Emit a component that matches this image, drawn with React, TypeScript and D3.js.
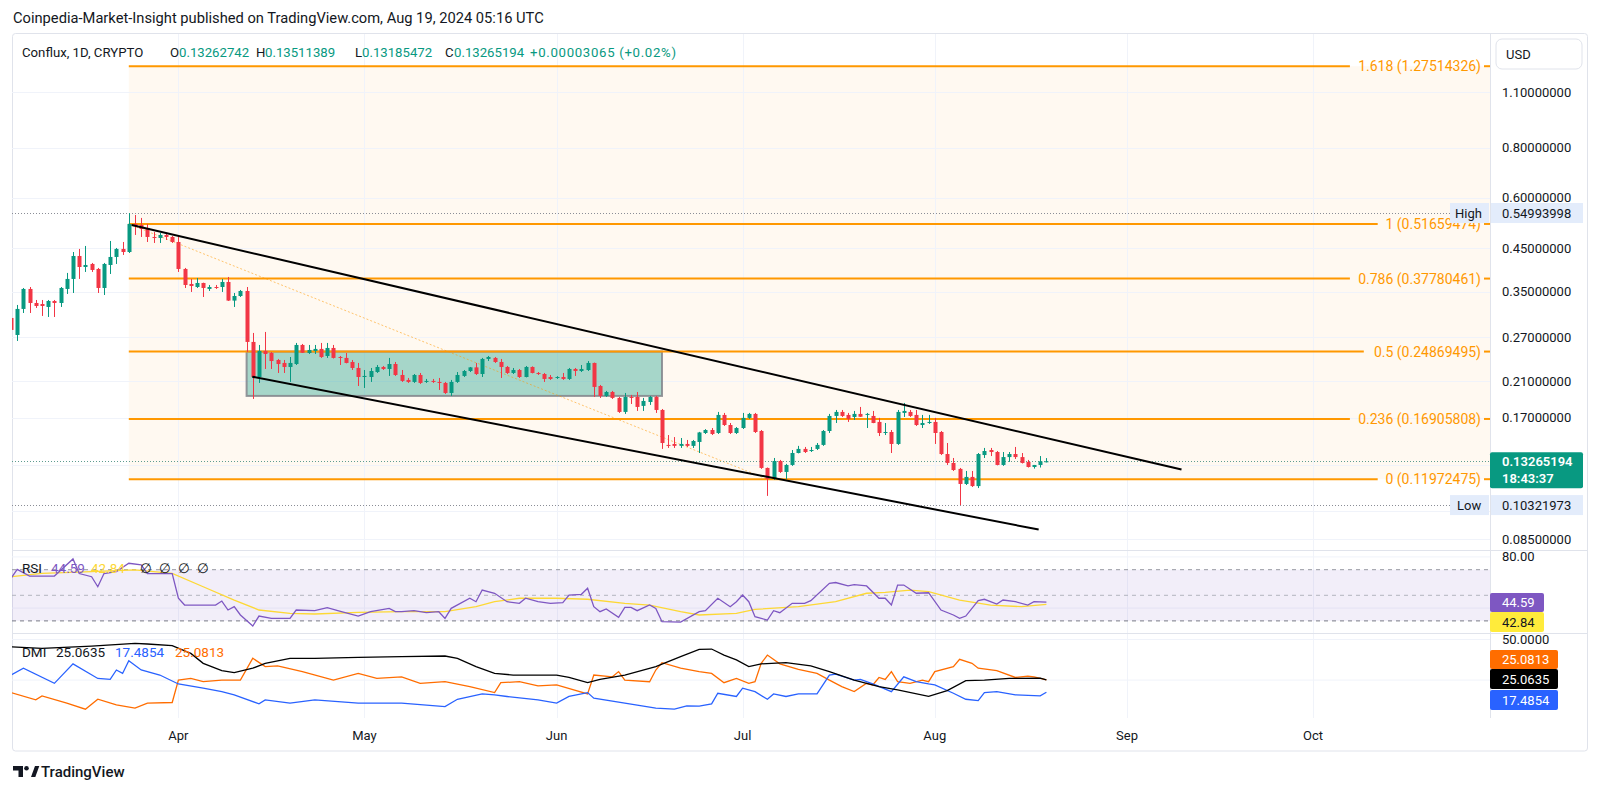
import React from 'react';
import * as d3 from 'd3';

const FONT = "Roboto, 'Noto Sans', 'DejaVu Sans', sans-serif";
const TXT = '#131722';
const UP = '#089981';
const DOWN = '#f23645';
const GRID = '#f0f3fa';
const BORDER = '#e0e3eb';
const FIB = '#ff9800';

const START = Date.UTC(2024, 2, 5);
const DAY = 86400000;

// daily candles from 2024-03-05 to 2024-08-19: [open, high, low, close]
const ohlc: [number, number, number, number][] = [
  [0.3015,0.3102,0.2735,0.2815],[0.2735,0.3248,0.2643,0.3175],[0.3175,0.3580,0.3102,0.3560],[0.3560,0.3600,0.3102,0.3285],
  [0.3285,0.3342,0.3193,0.3229],[0.3266,0.3342,0.3050,0.3229],[0.3211,0.3342,0.3032,0.3323],[0.3323,0.3342,0.3032,0.3285],
  [0.3285,0.3600,0.3211,0.3580],[0.3560,0.3902,0.3459,0.3770],[0.3770,0.4399,0.3479,0.4300],[0.4300,0.4477,0.3770,0.4037],
  [0.4037,0.4554,0.3924,0.4084],[0.4108,0.4132,0.3924,0.3969],[0.3992,0.4015,0.3479,0.3580],[0.3580,0.4132,0.3439,0.4108],
  [0.4084,0.4686,0.3879,0.4276],[0.4276,0.4502,0.4108,0.4477],[0.4477,0.4659,0.4325,0.4399],[0.4399,0.5499,0.4374,0.5166],
  [0.5166,0.5439,0.4850,0.5107],[0.5136,0.5347,0.4795,0.5020],[0.5049,0.5166,0.4659,0.4795],[0.4795,0.4934,0.4633,0.4768],
  [0.4768,0.4906,0.4633,0.4850],[0.4850,0.4906,0.4713,0.4795],[0.4795,0.4822,0.4633,0.4659],
  // April
  [0.4659,0.4795,0.3924,0.3992],[0.3992,0.4015,0.3580,0.3642],[0.3663,0.3770,0.3499,0.3621],[0.3600,0.3791,0.3580,0.3684],
  [0.3684,0.3690,0.3400,0.3580],[0.3560,0.3642,0.3519,0.3600],[0.3600,0.3642,0.3560,0.3580],[0.3600,0.3770,0.3499,0.3705],
  [0.3705,0.3813,0.3323,0.3330],[0.3330,0.3479,0.3211,0.3419],[0.3419,0.3539,0.3400,0.3519],[0.3519,0.3600,0.2481,0.2628],
  [0.2628,0.2767,0.1896,0.2150],[0.2150,0.2583,0.2078,0.2496],[0.2496,0.2783,0.2251,0.2453],[0.2467,0.2481,0.2251,0.2356],
  [0.2370,0.2384,0.2200,0.2316],[0.2330,0.2370,0.2200,0.2277],[0.2277,0.2411,0.2090,0.2330],[0.2316,0.2613,0.2303,0.2583],
  [0.2583,0.2598,0.2467,0.2470],[0.2467,0.2583,0.2453,0.2510],[0.2496,0.2583,0.2453,0.2525],[0.2525,0.2613,0.2398,0.2411],
  [0.2425,0.2613,0.2398,0.2539],[0.2539,0.2583,0.2390,0.2398],[0.2411,0.2425,0.2303,0.2398],[0.2398,0.2467,0.2325,0.2330],
  [0.2343,0.2370,0.2238,0.2264],[0.2264,0.2330,0.2042,0.2150],
  // May
  [0.2150,0.2238,0.2019,0.2163],[0.2150,0.2264,0.2090,0.2225],[0.2212,0.2303,0.2200,0.2277],[0.2277,0.2290,0.2238,0.2251],
  [0.2251,0.2398,0.2163,0.2316],[0.2316,0.2343,0.2163,0.2175],[0.2175,0.2238,0.2090,0.2102],[0.2114,0.2138,0.2078,0.2090],
  [0.2090,0.2187,0.2078,0.2175],[0.2175,0.2200,0.2066,0.2078],[0.2090,0.2126,0.2078,0.2102],[0.2102,0.2126,0.2078,0.2090],
  [0.2090,0.2138,0.1996,0.2078],[0.2078,0.2090,0.1951,0.1962],[0.1962,0.2114,0.1929,0.2090],[0.2090,0.2212,0.2078,0.2175],
  [0.2163,0.2238,0.2150,0.2225],[0.2225,0.2277,0.2212,0.2272],[0.2272,0.2330,0.2175,0.2187],[0.2187,0.2398,0.2150,0.2384],
  [0.2384,0.2425,0.2356,0.2411],[0.2398,0.2411,0.2330,0.2343],[0.2343,0.2384,0.2138,0.2277],[0.2277,0.2290,0.2187,0.2200],
  [0.2200,0.2264,0.2187,0.2238],[0.2238,0.2251,0.2138,0.2150],[0.2150,0.2290,0.2145,0.2277],[0.2277,0.2285,0.2195,0.2200],
  [0.2200,0.2212,0.2175,0.2187],[0.2187,0.2200,0.2090,0.2126],[0.2150,0.2175,0.2114,0.2126],
  // June
  [0.2138,0.2160,0.2126,0.2150],[0.2150,0.2200,0.2114,0.2126],[0.2126,0.2264,0.2114,0.2251],[0.2251,0.2264,0.2163,0.2225],
  [0.2225,0.2303,0.2212,0.2251],[0.2238,0.2356,0.2225,0.2330],[0.2330,0.2335,0.1918,0.2031],[0.2042,0.2054,0.1907,0.1929],
  [0.1929,0.1985,0.1918,0.1973],[0.1973,0.1985,0.1896,0.1907],[0.1907,0.1918,0.1750,0.1760],[0.1760,0.1962,0.1740,0.1918],
  [0.1918,0.1940,0.1842,0.1907],[0.1918,0.1973,0.1770,0.1811],[0.1822,0.1907,0.1770,0.1874],[0.1863,0.1929,0.1832,0.1918],
  [0.1918,0.1929,0.1750,0.1780],[0.1780,0.1790,0.1424,0.1473],[0.1457,0.1542,0.1432,0.1449],[0.1465,0.1524,0.1432,0.1449],
  [0.1449,0.1516,0.1432,0.1465],[0.1465,0.1499,0.1440,0.1449],[0.1449,0.1499,0.1432,0.1490],[0.1482,0.1570,0.1391,0.1565],
  [0.1560,0.1595,0.1551,0.1587],[0.1587,0.1605,0.1542,0.1551],[0.1560,0.1760,0.1551,0.1730],[0.1730,0.1750,0.1624,0.1633],
  [0.1633,0.1652,0.1551,0.1560],[0.1560,0.1614,0.1551,0.1605],
  // July
  [0.1605,0.1750,0.1596,0.1701],[0.1701,0.1750,0.1691,0.1740],[0.1740,0.1750,0.1560,0.1569],[0.1578,0.1587,0.1270,0.1277],
  [0.1277,0.1280,0.1088,0.1199],[0.1199,0.1352,0.1192,0.1329],[0.1329,0.1337,0.1241,0.1248],[0.1248,0.1307,0.1199,0.1299],
  [0.1299,0.1415,0.1292,0.1391],[0.1391,0.1449,0.1388,0.1424],[0.1424,0.1440,0.1391,0.1399],[0.1407,0.1440,0.1399,0.1415],
  [0.1424,0.1473,0.1415,0.1457],[0.1457,0.1587,0.1449,0.1578],[0.1578,0.1740,0.1560,0.1720],[0.1720,0.1780,0.1652,0.1760],
  [0.1760,0.1780,0.1710,0.1720],[0.1730,0.1750,0.1662,0.1691],[0.1710,0.1770,0.1681,0.1740],[0.1740,0.1811,0.1710,0.1712],
  [0.1730,0.1750,0.1605,0.1740],[0.1720,0.1770,0.1650,0.1652],[0.1662,0.1701,0.1533,0.1560],[0.1560,0.1652,0.1542,0.1569],
  [0.1569,0.1587,0.1391,0.1465],[0.1465,0.1780,0.1457,0.1760],[0.1750,0.1853,0.1710,0.1770],[0.1760,0.1780,0.1710,0.1720],
  [0.1730,0.1780,0.1624,0.1633],[0.1633,0.1730,0.1605,0.1652],[0.1652,0.1730,0.1643,0.1662],
  // August
  [0.1662,0.1701,0.1465,0.1560],[0.1569,0.1578,0.1375,0.1383],[0.1383,0.1473,0.1299,0.1314],[0.1314,0.1352,0.1255,0.1262],
  [0.1270,0.1277,0.10322,0.1165],[0.1165,0.1255,0.1158,0.1213],[0.1213,0.1255,0.1145,0.1151],[0.1151,0.1391,0.1138,0.1383],
  [0.1375,0.1432,0.1352,0.1407],[0.1415,0.1432,0.1367,0.1399],[0.1399,0.1407,0.1296,0.1299],[0.1299,0.1399,0.1292,0.1359],
  [0.1359,0.1399,0.1322,0.1383],[0.1383,0.1440,0.1344,0.1359],[0.1359,0.1391,0.1310,0.1314],[0.1322,0.1337,0.1280,0.1284],
  [0.1284,0.1299,0.1272,0.1299],[0.1299,0.1367,0.1280,0.1326],[0.13262742,0.13511389,0.13185472,0.13265194],
];

// indicator readings: [day index from 2024-03-05, value]
const rsiPts: [number, number][] = [
  [0,63.3],[1,70.3],[3,65],[7,65],[10,78.4],[11,67],[13,64.5],[14,56.7],[15,67],[17,68.5],[19,75],[21,73.7],[22,67],[26,67],
  [27,47.7],[28,42.4],[33,42.4],[34,45.5],[35,38.5],[36,41.1],[37,34.6],[39,26],[40,33.8],[42,32],[45,32],[46,38.5],[49,38],
  [51,40.3],[53,37.7],[56,33.8],[58,37.2],[61,39.8],[62,37.2],[63,37.2],[65,38],[67,36.4],[69,37.2],[70,32],[71,39.8],[74,47.7],
  [75,45],[76,54.1],[78,51.6],[80,45],[82,43.75],[83,47.7],[85,45],[87,43.75],[89,44.3],[90,50.2],[92,50.8],[93,55.5],[94,41.1],
  [95,37.2],[96,39.3],[98,32.8],[99,40.6],[100,40.6],[101,38],[103,42.4],[104,39.8],[105,29.4],[108,29.1],[111,37.2],[112,38],
  [114,47.7],[116,41.1],[117,45],[118,50.2],[119,45],[120,33.3],[122,30.7],[123,38],[124,36.4],[126,43.75],[128,43.75],[129,45.8],
  [132,59.4],[133,60],[135,57.3],[136,58.3],[138,57.3],[140,47.7],[141,47.7],[142,42.4],[143,58],[144,58],[146,51.6],[148,52],
  [150,38.5],[152,34.6],[153,32],[154,33.8],[156,45.8],[157,46.9],[159,43.2],[160,46.3],[162,45],[164,42.4],[165,45],[167,44.59],
];
const rsiMaPts: [number, number][] = [
  [0,64.5],[5,67.2],[13,68.5],[20,69.8],[26,67.2],[31,56.7],[36,46.3],[40,38.5],[45,35.9],[49,35.4],[56,36.7],[63,37.2],[70,37.2],
  [75,41.1],[78,45],[82,47.7],[88,47.7],[93,46.9],[99,43.75],[103,42.4],[108,37.2],[111,34.6],[117,35.9],[120,39],[127,41.1],
  [133,45],[138,51.6],[141,52.3],[145,54.1],[148,52.8],[153,46.3],[158,42.4],[163,41.1],[167,42.84],
];
const adxPts: [number, number][] = [
  [0,45.5],[5,44.5],[13,45.9],[20,47.6],[22,47.2],[26,46.2],[29,41.4],[31,35.3],[34,30.8],[36,29.6],[39,32.3],[41,35.3],[45,38.4],
  [49,38.4],[56,39],[63,39.4],[70,39.8],[72,38.4],[75,33.3],[78,29.1],[81,28.1],[88,28.1],[90,26.6],[93,23.4],[95,25.4],[99,28.1],
  [104,33.3],[108,39.4],[111,43.9],[113,44.1],[115,40.4],[117,37.4],[119,33.3],[121,35],[125,35.7],[129,33.7],[132,30.2],[136,25],
  [140,21],[143,19],[148,15],[151,18.5],[154,24.6],[157,25],[161,26],[166,26.2],[167,25.0635],
];
const plusDiPts: [number, number][] = [
  [0,28.1],[2,32.3],[7,23],[10,35],[14,26],[16,25.4],[17,31.2],[18,29.1],[19,36.9],[21,31.2],[24,28.1],[27,22.6],[31,20],[34,17.9],
  [36,15.9],[40,10.4],[41,12.8],[45,10.8],[49,12.8],[56,10.8],[63,10.8],[70,8.7],[72,13.2],[76,16.5],[78,15.9],[80,14.9],[85,12.8],
  [88,10.8],[90,14.9],[93,17.3],[94,13.9],[99,10.8],[104,7.7],[107,7.1],[109,9.1],[111,9],[113,10.4],[114,16.9],[117,14.9],[118,20],
  [120,17.9],[122,13.2],[123,16.5],[125,14.9],[127,16.5],[130,16.5],[132,28.1],[133,28.7],[136,25],[137,25.4],[139,22.6],[142,17.9],
  [144,27],[146,24],[148,22.6],[149,22],[152,16.9],[154,13.2],[156,12.4],[157,17.3],[159,17.9],[162,15.9],[166,15.3],[167,17.4854],
];
const minusDiPts: [number, number][] = [
  [0,17.3],[4,12.8],[5,15.3],[9,10.8],[12,7.1],[14,13.2],[17,9.8],[20,7.7],[22,10.8],[26,11.2],[27,25],[29,26],[31,24],[34,25],
  [37,25],[39,38.4],[41,33.3],[43,33.7],[47,30.2],[52,25],[56,29.1],[59,26],[63,27],[66,23],[70,24],[74,21],[78,17.3],[79,23.4],
  [82,24],[85,21.4],[88,22],[93,16.5],[94,28.1],[97,27],[98,30.2],[99,25],[103,24],[104,31.2],[105,35.7],[108,32.3],[111,30.2],
  [113,29.1],[115,23.4],[117,26],[119,23],[120,24],[121,35.3],[122,40.4],[124,35],[127,31.6],[130,29.1],[132,25],[134,21],[136,17.9],
  [138,23],[139,22],[140,26.6],[141,25.4],[142,30.2],[143,24],[145,23],[147,25],[148,24],[149,30.2],[152,33.3],[153,37.8],[155,35.3],
  [156,32.3],[159,30.8],[162,26.6],[164,27.4],[165,27],[167,25.0813],
];

const priceGrid = [1.1, 0.8, 0.6, 0.45, 0.35, 0.27, 0.21, 0.17, 0.13, 0.1, 0.085];
const priceLabels = [1.1, 0.8, 0.6, 0.45, 0.35, 0.27, 0.21, 0.17, 0.085];
const fibRatios = ['1.618', '1', '0.786', '0.5', '0.236', '0'];
const fibValues = [1.27514326, 0.51659474, 0.37780461, 0.24869495, 0.16905808, 0.11972475];
const months = ['Apr', 'May', 'Jun', 'Jul', 'Aug', 'Sep', 'Oct'];
const monthDates = months.map((_, i) => new Date(Date.UTC(2024, 3 + i, 1)));

const highValue = 0.54993998;
const lowValue = 0.10321973;
const lastPrice = 0.13265194;

// drawings (time, price)
const fibStart = new Date(Date.UTC(2024, 2, 24));
const fibEnd = new Date(Date.UTC(2024, 6, 5));
const upperTrend: [Date, number][] = [[new Date(Date.UTC(2024, 2, 24, 11)), 0.5136], [new Date(Date.UTC(2024, 8, 9, 19)), 0.1265]];
const lowerTrend: [Date, number][] = [[new Date(Date.UTC(2024, 3, 12, 22)), 0.2154], [new Date(Date.UTC(2024, 7, 17, 18)), 0.0897]];
const rangeBox = { from: new Date(Date.UTC(2024, 3, 12)), to: new Date(Date.UTC(2024, 5, 18)), top: 0.24869495, bottom: 0.1929 };

const dateOf = (i: number) => new Date(START + i * DAY);

export default function App() {
  const W = 1600, H = 794;
  const L = 12, R = 1490, AX = 1588;
  const mainTop = 34, mainBot = 550, rsiBot = 633, dmiBot = 718;

  const x = d3.scaleUtc().domain([new Date(Date.UTC(2024, 3, 1)), new Date(Date.UTC(2024, 9, 1))]).range([178.4, 1313]);
  const y = d3.scaleLog().domain([0.085, 1.1]).range([539, 92]);
  const yr = d3.scaleLinear().domain([30, 70]).range([620.9, 569.7]);
  const yd = d3.scaleLinear().domain([0, 50]).range([720.7, 639.45]);

  const rsiLine = d3.line<[number, number]>().x(d => x(dateOf(d[0]))).y(d => yr(d[1]));
  const dmiLine = d3.line<[number, number]>().x(d => x(dateOf(d[0]))).y(d => yd(d[1]));
  const trend = d3.line<[Date, number]>().x(d => x(d[0])).y(d => y(d[1]));

  const fibX0 = x(fibStart);
  const fmt = (v: number) => v.toFixed(8);

  const fs = 13;
  const fsFib = 14;
  const fsLeg = 13.5;

  return (
    <div style={{ position: 'absolute', left: 0, top: 0, width: W, height: H, background: '#fff' }}>
      <svg width={W} height={H} style={{ display: 'block', fontFamily: FONT }}>
        <defs>
          <clipPath id="cMain"><rect x={L} y={mainTop} width={R - L} height={mainBot - mainTop} /></clipPath>
          <clipPath id="cRsi"><rect x={L} y={mainBot} width={R - L} height={rsiBot - mainBot} /></clipPath>
          <clipPath id="cDmi"><rect x={L} y={rsiBot} width={R - L} height={dmiBot - rsiBot} /></clipPath>
        </defs>
        <rect x={0} y={0} width={W} height={H} fill="#fff" />

        {/* header */}
        <text x={13} y={18} fontSize={14.7} fill={TXT} dominantBaseline="central">
          Coinpedia-Market-Insight published on TradingView.com, Aug 19, 2024 05:16 UTC
        </text>

        {/* frame */}
        <rect x={L + 0.5} y={33.5} width={AX - L - 1} height={751 - 33.5} fill="none" stroke={BORDER} rx={3} />

        {/* fib background */}
        <rect x={fibX0} y={y(fibValues[0])} width={R - fibX0} height={y(fibValues[5]) - y(fibValues[0])} fill="#fff9f1" />

        {/* grid */}
        <g stroke={GRID} strokeWidth={1}>
          {priceGrid.map(p => <line key={'pg' + p} x1={L} x2={R} y1={Math.round(y(p)) + 0.5} y2={Math.round(y(p)) + 0.5} />)}
          {monthDates.map((d, i) => <line key={'vg' + i} x1={Math.round(x(d)) + 0.5} x2={Math.round(x(d)) + 0.5} y1={mainTop} y2={dmiBot} />)}
          {[80, 40].map(v => <line key={'rg' + v} x1={L} x2={R} y1={yr(v)} y2={yr(v)} />)}
          {[50, 25].map(v => <line key={'dg' + v} x1={L} x2={R} y1={yd(v)} y2={yd(v)} />)}
        </g>

        {/* main pane */}
        <g clipPath="url(#cMain)">
          <rect x={x(rangeBox.from)} y={y(rangeBox.top)} width={x(rangeBox.to) - x(rangeBox.from)}
            height={y(rangeBox.bottom) - y(rangeBox.top)} fill="rgba(8,153,129,0.36)" stroke="rgba(130,133,140,0.85)" strokeWidth={2} />
          {fibValues.map((v, i) => {
            const lbl = `${fibRatios[i]} (${fmt(v)})`;
            const lx0 = 1481 - lbl.length * 6.95;
            const yy = y(v);
            return (
              <g key={'fib' + i}>
                <line x1={fibX0} x2={lx0 - 6} y1={yy} y2={yy} stroke={FIB} strokeWidth={2} />
                <line x1={1484} x2={R} y1={yy} y2={yy} stroke={FIB} strokeWidth={2} />
                <text x={1481} y={yy} fontSize={fsFib} fill={FIB} textAnchor="end" dominantBaseline="central">{lbl}</text>
              </g>
            );
          })}
          <line x1={x(fibStart)} y1={y(fibValues[1])} x2={x(fibEnd)} y2={y(fibValues[5])} stroke={FIB} strokeOpacity={0.55} strokeDasharray="2,2" strokeWidth={1} />

          <line x1={L} x2={1450} y1={Math.round(y(highValue)) + 0.5} y2={Math.round(y(highValue)) + 0.5} stroke="#8a8d96" strokeDasharray="1,2" />
          <line x1={L} x2={1450} y1={Math.round(y(lowValue)) + 0.5} y2={Math.round(y(lowValue)) + 0.5} stroke="#8a8d96" strokeDasharray="1,2" />
          <line x1={L} x2={R} y1={Math.round(y(lastPrice)) + 0.5} y2={Math.round(y(lastPrice)) + 0.5} stroke="#5e9c90" strokeDasharray="1,2" />

          {ohlc.map((c, i) => {
            const [o, h, l, cl] = c;
            const cx = Math.round(x(dateOf(i)));
            const col = cl >= o ? UP : DOWN;
            const yt = y(Math.max(o, cl));
            const yb = y(Math.min(o, cl));
            return (
              <g key={'c' + i}>
                <line x1={cx + 0.5} x2={cx + 0.5} y1={y(h)} y2={y(l)} stroke={col} strokeWidth={1} />
                <rect x={cx - 1.5} y={yt} width={4} height={Math.max(1, yb - yt)} fill={col} />
              </g>
            );
          })}

          <path d={trend(upperTrend) || ''} stroke="#000" strokeWidth={2} fill="none" />
          <path d={trend(lowerTrend) || ''} stroke="#000" strokeWidth={2} fill="none" />
        </g>

        {/* legend line */}
        <text y={52} fontSize={13.2} dominantBaseline="central">
          <tspan x={22} fill={TXT}>Conflux, 1D, CRYPTO</tspan>
          <tspan x={170} fill={TXT}>O</tspan><tspan x={179} fill={UP}>0.13262742</tspan>
          <tspan x={256} fill={TXT}>H</tspan><tspan x={265} fill={UP}>0.13511389</tspan>
          <tspan x={355} fill={TXT}>L</tspan><tspan x={362} fill={UP}>0.13185472</tspan>
          <tspan x={445} fill={TXT}>C</tspan><tspan x={454} fill={UP}>0.13265194</tspan>
        </text>
        <text x={530} y={52} fontSize={13.2} fill={UP} dominantBaseline="central" textLength={146} lengthAdjust="spacing">+0.00003065 (+0.02%)</text>

        {/* RSI pane */}
        <rect x={L} y={yr(70)} width={R - L} height={yr(30) - yr(70)} fill="rgba(126,87,194,0.1)" />
        <line x1={L} x2={R} y1={yr(70)} y2={yr(70)} stroke="#9598a1" strokeDasharray="4,4" />
        <line x1={L} x2={R} y1={yr(50)} y2={yr(50)} stroke="#b2b5be" strokeDasharray="4,4" />
        <line x1={L} x2={R} y1={yr(30)} y2={yr(30)} stroke="#787b86" strokeDasharray="4,4" />
        <g clipPath="url(#cRsi)">
          <path d={rsiLine(rsiMaPts) || ''} stroke="#fdd835" strokeWidth={1.3} fill="none" />
          <path d={rsiLine(rsiPts) || ''} stroke="#7e57c2" strokeWidth={1.3} fill="none" />
        </g>
        <text y={568} fontSize={fsLeg} dominantBaseline="central">
          <tspan x={22} fill={TXT}>RSI</tspan>
          <tspan x={51} fill="#7e57c2">44.59</tspan>
          <tspan x={91} fill="#fdd835">42.84</tspan>
          <tspan x={140} fill={TXT}>∅</tspan>
          <tspan x={159} fill={TXT}>∅</tspan>
          <tspan x={178} fill={TXT}>∅</tspan>
          <tspan x={197} fill={TXT}>∅</tspan>
        </text>

        {/* DMI pane */}
        <g clipPath="url(#cDmi)">
          <path d={dmiLine(minusDiPts) || ''} stroke="#ff6d00" strokeWidth={1.3} fill="none" />
          <path d={dmiLine(plusDiPts) || ''} stroke="#2962ff" strokeWidth={1.3} fill="none" />
          <path d={dmiLine(adxPts) || ''} stroke="#000" strokeWidth={1.3} fill="none" />
        </g>
        <text y={652} fontSize={fsLeg} dominantBaseline="central">
          <tspan x={22} fill={TXT}>DMI</tspan>
          <tspan x={56} fill={TXT}>25.0635</tspan>
          <tspan x={115} fill="#2962ff">17.4854</tspan>
          <tspan x={175} fill="#ff6d00">25.0813</tspan>
        </text>

        {/* pane separators and axis border */}
        <line x1={L} x2={AX} y1={mainBot + 0.5} y2={mainBot + 0.5} stroke={BORDER} />
        <line x1={L} x2={AX} y1={rsiBot + 0.5} y2={rsiBot + 0.5} stroke={BORDER} />
        <line x1={R + 0.5} x2={R + 0.5} y1={mainTop} y2={dmiBot} stroke={BORDER} />

        {/* price axis */}
        <rect x={1496} y={39} width={86} height={30} rx={6} fill="#fff" stroke={BORDER} />
        <text x={1506} y={54} fontSize={fs} fill={TXT} dominantBaseline="central">USD</text>
        {priceLabels.map(p => (
          <text key={'pl' + p} x={1502} y={y(p)} fontSize={fs} fill={TXT} dominantBaseline="central">{fmt(p)}</text>
        ))}
        <rect x={1450} y={y(highValue) - 10} width={39} height={20} fill="#e3ecfb" />
        <text x={1455} y={y(highValue)} fontSize={fs} fill={TXT} dominantBaseline="central">High</text>
        <rect x={1491} y={y(highValue) - 10} width={92} height={20} fill="#e3ecfb" />
        <text x={1502} y={y(highValue)} fontSize={fs} fill={TXT} dominantBaseline="central">{fmt(highValue)}</text>
        <rect x={1450} y={y(lowValue) - 10} width={39} height={20} fill="#e3ecfb" />
        <text x={1457} y={y(lowValue)} fontSize={fs} fill={TXT} dominantBaseline="central">Low</text>
        <rect x={1491} y={y(lowValue) - 10} width={92} height={20} fill="#e3ecfb" />
        <text x={1502} y={y(lowValue)} fontSize={fs} fill={TXT} dominantBaseline="central">{fmt(lowValue)}</text>
        <rect x={1490} y={y(lastPrice) - 9} width={93} height={36} rx={2} fill={UP} />
        <text x={1502} y={y(lastPrice)} fontSize={fs} fill="#fff" fontWeight={600} dominantBaseline="central">{fmt(lastPrice)}</text>
        <text x={1502} y={y(lastPrice) + 17} fontSize={fs} fill="#fff" fontWeight={600} dominantBaseline="central">18:43:37</text>

        {/* RSI axis */}
        <text x={1502} y={yr(80)} fontSize={fs} fill={TXT} dominantBaseline="central">80.00</text>
        <rect x={1490} y={593} width={54} height={19} rx={2} fill="#7e57c2" />
        <text x={1502} y={602.5} fontSize={fs} fill="#fff" dominantBaseline="central">44.59</text>
        <rect x={1490} y={612} width={54} height={20} rx={2} fill="#ffeb3b" />
        <text x={1502} y={622} fontSize={fs} fill={TXT} dominantBaseline="central">42.84</text>

        {/* DMI axis */}
        <text x={1502} y={yd(50)} fontSize={fs} fill={TXT} dominantBaseline="central">50.0000</text>
        <rect x={1490} y={650} width={68} height={19} rx={2} fill="#ff6d00" />
        <text x={1502} y={659.5} fontSize={fs} fill="#fff" dominantBaseline="central">25.0813</text>
        <rect x={1490} y={669} width={68} height={20} rx={2} fill="#000" />
        <text x={1502} y={679} fontSize={fs} fill="#fff" dominantBaseline="central">25.0635</text>
        <rect x={1490} y={690} width={68} height={20} rx={2} fill="#2962ff" />
        <text x={1502} y={700} fontSize={fs} fill="#fff" dominantBaseline="central">17.4854</text>

        {/* time axis */}
        {months.map((m, i) => (
          <text key={'m' + m} x={x(monthDates[i])} y={735} fontSize={fs} fill={TXT} textAnchor="middle" dominantBaseline="central">{m}</text>
        ))}

        {/* logo */}
        <g fill={TXT}>
          <path d="M13,766 h10 v11 h-4.5 v-6.5 h-5.5 z" />
          <circle cx={26.5} cy={768.3} r={2.3} />
          <path d="M31,777 L35,766 h4.3 L35.3,777 z" />
        </g>
        <text x={41} y={772} fontSize={15} fontWeight={500} fill={TXT} dominantBaseline="central">TradingView</text>
      </svg>
    </div>
  );
}
